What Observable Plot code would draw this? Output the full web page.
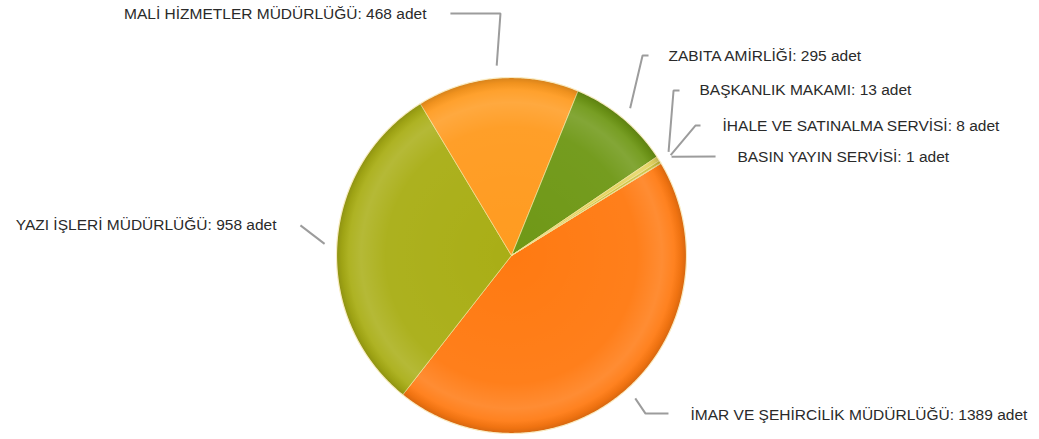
<!DOCTYPE html>
<html>
<head>
<meta charset="utf-8">
<script src="https://cdn.jsdelivr.net/npm/d3@7"></script>
<script src="https://cdn.jsdelivr.net/npm/@observablehq/plot@0.6"></script>
<style>
  html, body { margin: 0; padding: 0; background: #ffffff; }
  #chart svg { display: block; }
</style>
</head>
<body>
<div id="chart"></div>
<script>
// ---- data ----
const names = [
  "İMAR VE ŞEHİRCİLİK MÜDÜRLÜĞÜ",
  "YAZI İŞLERİ MÜDÜRLÜĞÜ",
  "MALİ HİZMETLER MÜDÜRLÜĞÜ",
  "ZABITA AMİRLİĞİ",
  "BAŞKANLIK MAKAMI",
  "İHALE VE SATINALMA SERVİSİ",
  "BASIN YAYIN SERVİSİ"
];
const values = [1389, 958, 468, 295, 13, 8, 1];
const unitLabel = "adet";

// ---- styles ----
const colors = ["#ff7a12", "#a9ae16", "#ff9b20", "#6f9816", "#e4d45e", "#c9c03c", "#8c7a18"];

// ---- layout ----
const W = 1039, H = 439;
const CX = 511, CY = 255;      // pie centre (px)
const RX = 175, RY = 178;      // pie radius (px per unit)
const startDeg = 58.8;         // first slice starts here, clockwise from 12 o'clock
const leaderR = 1.07;          // leader lines start just outside the rim
// leader elbows / ends and text anchors, in pie-radius units (origin = centre, y up)
const labelLayout = [
  { elbow: [0.766, -0.888], end: [0.897, -0.888], text: [1.023, -0.895], anchor: "start" },
  { elbow: null,            end: [-1.206, 0.169], text: [-1.343, 0.169], anchor: "end" },
  { elbow: [-0.063, 1.360], end: [-0.349, 1.360], text: [-0.486, 1.354], anchor: "end" },
  { elbow: [0.749, 1.124],  end: [0.783, 1.124],  text: [0.897, 1.118],  anchor: "start" },
  { elbow: [0.926, 0.927],  end: [0.960, 0.927],  text: [1.074, 0.927],  anchor: "start" },
  { elbow: [1.051, 0.730],  end: [1.080, 0.730],  text: [1.206, 0.730],  anchor: "start" },
  { elbow: null,            end: [1.166, 0.556],  text: [1.291, 0.551],  anchor: "start" }
];

const rad = (d) => d * Math.PI / 180;
const arcs = d3.pie().sort(null).value((d) => d)
  .startAngle(rad(startDeg)).endAngle(rad(startDeg) + 2 * Math.PI)(values);

// slice polygons (computed from the pie angles)
const slicePts = [];
arcs.forEach((a, i) => {
  const n = Math.max(2, Math.ceil((a.endAngle - a.startAngle) / rad(0.5)));
  slicePts.push({ name: names[i], x: 0, y: 0 });
  for (let k = 0; k <= n; k++) {
    const t = a.startAngle + (a.endAngle - a.startAngle) * k / n;
    slicePts.push({ name: names[i], x: Math.sin(t), y: Math.cos(t) });
  }
  slicePts.push({ name: names[i], x: 0, y: 0 });
});

// full disc for the shading overlay
const discPts = d3.range(0, 721).map((k) => ({ x: Math.sin(rad(k / 2)), y: Math.cos(rad(k / 2)) }));

// leader lines and labels
const leaderPts = [];
const labels = [];
arcs.forEach((a, i) => {
  const mid = (a.startAngle + a.endAngle) / 2;
  const L = labelLayout[i];
  leaderPts.push({ name: names[i], x: leaderR * Math.sin(mid), y: leaderR * Math.cos(mid) });
  if (L.elbow) leaderPts.push({ name: names[i], x: L.elbow[0], y: L.elbow[1] });
  leaderPts.push({ name: names[i], x: L.end[0], y: L.end[1] });
  labels.push({ name: names[i], x: L.text[0], y: L.text[1], anchor: L.anchor, text: `${names[i]}: ${values[i]} ${unitLabel}` });
});

const fontFamily = "'Liberation Sans', Arial, Helvetica, sans-serif";

const chart = Plot.plot({
  width: W,
  height: H,
  margin: 0,
  style: { background: "#ffffff", fontFamily },
  x: { domain: [-CX / RX, (W - CX) / RX], axis: null },
  y: { domain: [-(H - CY) / RY, CY / RY], axis: null },
  color: { domain: names, range: colors },
  marks: [
    Plot.line(slicePts, { x: "x", y: "y", z: "name", fill: "name", stroke: "#f3e39a", strokeWidth: 0.9, strokeOpacity: 0.75, curve: "linear", strokeLinejoin: "round" }),
    Plot.line(discPts, { x: "x", y: "y", fill: "url(#pieShade)", stroke: "none", curve: "linear" }),
    Plot.line(discPts, { x: "x", y: "y", fill: "none", stroke: "#fff2d0", strokeWidth: 1.2, strokeOpacity: 0.8, curve: "linear" }),
    Plot.line(leaderPts, { x: "x", y: "y", z: "name", stroke: "#9c9c9c", strokeWidth: 2, curve: "linear", strokeLinejoin: "miter", strokeLinecap: "butt" }),
    Plot.text(labels.filter((d) => d.anchor === "start"), { x: "x", y: "y", text: "text", textAnchor: "start", fontSize: 15.5, fill: "#2a2a2a" }),
    Plot.text(labels.filter((d) => d.anchor === "end"), { x: "x", y: "y", text: "text", textAnchor: "end", fontSize: 15.5, fill: "#2a2a2a" })
  ]
});

// radial shading gradient for the 3D-ish look
const defs = d3.select(chart).insert("defs", ":first-child");
const grad = defs.append("radialGradient").attr("id", "pieShade")
  .attr("cx", "50%").attr("cy", "50%").attr("r", "50%");
[
  [0, "#ffffff", 0],
  [0.72, "#ffffff", 0.04],
  [0.86, "#ffffff", 0.14],
  [0.93, "#ffffff", 0.06],
  [0.97, "#000000", 0.06],
  [1, "#000000", 0.16]
].forEach(([o, c, a]) => grad.append("stop").attr("offset", o).attr("stop-color", c).attr("stop-opacity", a));

document.getElementById("chart").appendChild(chart);
</script>
</body>
</html>
